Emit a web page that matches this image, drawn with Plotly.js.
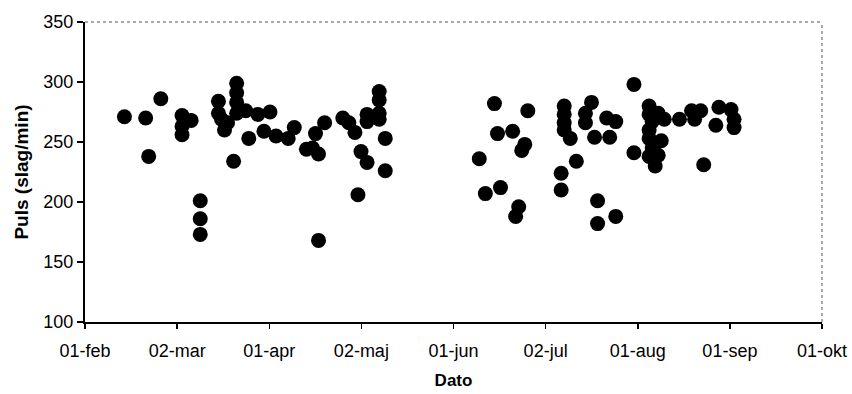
<!DOCTYPE html>
<html>
<head>
<meta charset="utf-8">
<script src="https://cdn.plot.ly/plotly-3.0.1.min.js"></script>
<style>html,body{margin:0;padding:0;background:#fff;}#chart{width:852px;height:394px;}</style>
</head>
<body>
<div id="chart"></div>
<script>
// Dates of measurement
const dates = [
  '2004-02-14','2004-02-21','2004-02-22','2004-02-26',
  '2004-03-04','2004-03-07','2004-03-04','2004-03-04',
  '2004-03-10','2004-03-10','2004-03-10',
  '2004-03-16','2004-03-16','2004-03-17','2004-03-18','2004-03-19','2004-03-21',
  '2004-03-22','2004-03-22','2004-03-22','2004-03-22',
  '2004-03-25','2004-03-26','2004-03-29','2004-04-02','2004-03-31','2004-04-04',
  '2004-04-08','2004-04-10','2004-04-14','2004-04-16','2004-04-18','2004-04-17',
  '2004-04-20','2004-04-18','2004-04-26','2004-04-28','2004-04-30','2004-05-02',
  '2004-05-04','2004-05-01','2004-05-04','2004-05-04',
  '2004-05-08','2004-05-08','2004-05-08','2004-05-08','2004-05-10','2004-05-10',
  '2004-06-10','2004-06-15','2004-06-16','2004-06-21','2004-06-26','2004-06-25',
  '2004-06-24','2004-06-12','2004-06-17','2004-06-23','2004-06-22',
  '2004-07-08','2004-07-08','2004-07-08','2004-07-08','2004-07-10','2004-07-12',
  '2004-07-07','2004-07-07','2004-07-17','2004-07-15','2004-07-15','2004-07-18',
  '2004-07-23','2004-07-22','2004-07-25','2004-07-19','2004-07-19','2004-07-25',
  '2004-07-31','2004-07-31',
  '2004-08-05','2004-08-05','2004-08-06','2004-08-05','2004-08-05','2004-08-05',
  '2004-08-07','2004-08-09','2004-08-08','2004-08-10','2004-08-08','2004-08-06',
  '2004-08-15','2004-08-19','2004-08-22','2004-08-20','2004-08-28','2004-09-01',
  '2004-08-27','2004-09-02','2004-09-02','2004-08-23'
];
// Pulse (beats/min)
const puls = [
  271,270,238,286,
  272,268,263,256,
  201,186,173,
  284,274,269,260,266,234,
  299,291,283,274,
  276,253,273,275,259,255,
  253,262,244,245,240,257,
  266,168,270,266,258,242,
  233,206,273,267,
  292,285,274,269,253,226,
  236,282,257,259,276,248,
  243,207,212,196,188,
  280,273,266,260,253,234,
  224,210,283,274,266,254,
  254,270,267,201,182,188,
  298,241,
  280,273,267,260,253,238,
  230,251,274,269,239,245,
  269,276,276,269,279,277,
  264,262,269,231
];
const tickText = ['01-feb','02-mar','01-apr','02-maj','01-jun','02-jul','01-aug','01-sep','01-okt'];
const yTicks = [100,150,200,250,300,350];
const xStart = '2004-02-01', xEnd = '2004-10-01';

function fmt(ms){
  const d = new Date(ms);
  const p = n => String(n).padStart(2,'0');
  return d.getUTCFullYear()+'-'+p(d.getUTCMonth()+1)+'-'+p(d.getUTCDate())+' '+p(d.getUTCHours())+':'+p(d.getUTCMinutes())+':'+p(d.getUTCSeconds());
}
const s = Date.UTC(2004,1,1), e = Date.UTC(2004,9,1);
const n = tickText.length - 1;
const tickVals = tickText.map((t,i)=>fmt(s + (e-s)*i/n));

const font = {family:'"Liberation Sans", Arial, Helvetica, sans-serif', color:'#000'};

Plotly.newPlot('chart', [{
  x: dates, y: puls, type:'scatter', mode:'markers',
  marker:{color:'#000', size:15, line:{width:0}}
}], {
  width:852, height:394,
  margin:{l:85, r:30, t:22, b:72},
  paper_bgcolor:'#fff', plot_bgcolor:'#fff',
  showlegend:false,
  font: Object.assign({size:18}, font),
  xaxis:{
    type:'date', range:[xStart, xEnd], tickmode:'array', tickvals:tickVals, ticktext:tickText,
    showline:true, linecolor:'#000', linewidth:2, ticks:'outside', ticklen:5, tickcolor:'#000', tickwidth:1.5,
    showgrid:false, zeroline:false, ticklabelstandoff:6,
    tickfont: Object.assign({size:18}, font),
    title:{text:'<b>Dato</b>', font:Object.assign({size:17}, font), standoff:15}
  },
  yaxis:{
    range:[100,350], tickmode:'array', tickvals:yTicks,
    showline:true, linecolor:'#000', linewidth:2, ticks:'outside', ticklen:6, tickcolor:'#000', tickwidth:1.5,
    showgrid:false, zeroline:false,
    tickfont: Object.assign({size:18}, font),
    title:{text:'<b>Puls (slag/min)</b>', font:Object.assign({size:19}, font), standoff:10}
  },
  shapes:[
    {type:'line', xref:'paper', yref:'paper', x0:0, x1:1, y0:1, y1:1, line:{color:'#555', width:1, dash:'dot'}},
    {type:'line', xref:'paper', yref:'paper', x0:1, x1:1, y0:0, y1:1, line:{color:'#555', width:1, dash:'dot'}}
  ]
}, {displayModeBar:false, staticPlot:true});
</script>
</body>
</html>
